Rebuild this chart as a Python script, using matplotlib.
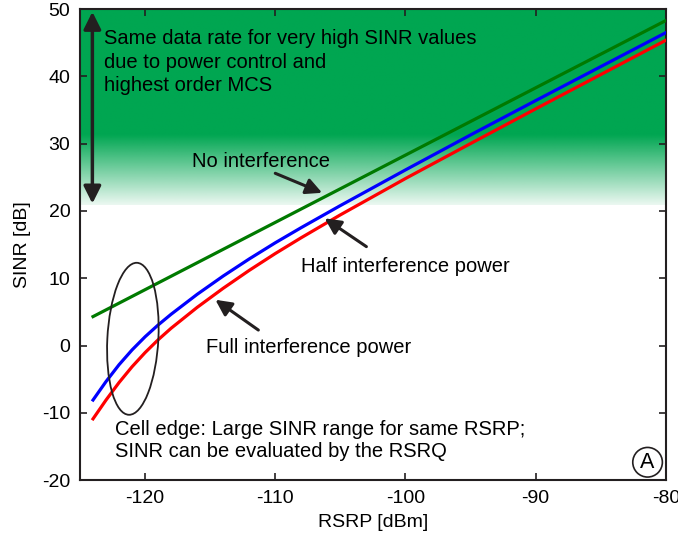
import numpy as np
import matplotlib
matplotlib.use('Agg')
import matplotlib.pyplot as plt
from matplotlib.patches import Ellipse

plt.rcParams['font.family'] = ['Liberation Sans', 'DejaVu Sans']
plt.rcParams['axes.unicode_minus'] = False

# values
rsrp = [-124, -123, -122, -121, -120, -119, -118, -116, -114, -112, -110,
        -108, -105, -100, -95, -90, -85, -80]
sinr_no_interf = [4.3, 5.3, 6.3, 7.3, 8.3, 9.3, 10.3, 12.3, 14.3, 16.3, 18.3,
                  20.3, 23.3, 28.3, 33.3, 38.3, 43.3, 48.3]
sinr_half_interf = [-8.1, -5.35, -2.85, -0.65, 1.3, 3.05, 4.65, 7.61, 10.33, 12.87, 15.27,
                    17.53, 20.8, 26.1, 31.3, 36.4, 41.45, 46.5]
sinr_full_interf = [-10.9, -8.1, -5.5, -3.15, -1.05, 0.85, 2.57, 5.67, 8.51, 11.17, 13.67,
                    16.03, 19.42, 24.82, 30.02, 35.17, 40.27, 45.37]

x_ticks = [-120, -110, -100, -90, -80]
y_ticks = [-20, -10, 0, 10, 20, 30, 40, 50]

dark = '#231F20'
green_bg = np.array([0, 166, 81]) / 255.0
fs = 14.5

fig = plt.figure(figsize=(6.78, 5.37), dpi=100)
ax = fig.add_axes([0.118, 0.106, 0.864, 0.877])

# green band: solid above ~31 dB, fading out down to ~21 dB
n = 300
yy = np.linspace(20.9, 50, n)
alpha = np.clip((yy - 20.9) / (31.3 - 20.9), 0, 1)
alpha = 0.08 + 0.92 * alpha
img = np.zeros((n, 2, 4))
img[:, :, :3] = green_bg
img[:, :, 3] = alpha[:, None]
ax.imshow(img, extent=[-125, -80, 20.9, 50], origin='lower', aspect='auto',
          interpolation='bilinear', zorder=0)

ax.plot(rsrp, sinr_no_interf, color='#007A00', lw=2.3, zorder=3)
ax.plot(rsrp, sinr_half_interf, color='#0000FF', lw=2.3, zorder=3)
ax.plot(rsrp, sinr_full_interf, color='#FF0000', lw=2.3, zorder=3)

ax.set_xlim(-125, -80)
ax.set_ylim(-20, 50)
ax.set_xticks(x_ticks)
ax.set_yticks(y_ticks)
ax.tick_params(direction='in', length=5, width=1.2, top=True, right=True,
               labelsize=14, pad=7, color=dark)
for s in ax.spines.values():
    s.set_linewidth(1.5)
    s.set_color(dark)
ax.set_xlabel('RSRP [dBm]', fontsize=14, labelpad=5)
ax.set_ylabel('SINR [dB]', fontsize=14, labelpad=8)

# vertical double arrow
ax.annotate('', xy=(-124.05, 49.6), xytext=(-124.05, 21.1),
            arrowprops=dict(arrowstyle='<|-|>', color=dark, lw=2.5,
                            mutation_scale=26, shrinkA=0, shrinkB=0), zorder=4)
ax.text(-123.15, 47.0, 'Same data rate for very high SINR values\n'
        'due to power control and\nhighest order MCS',
        fontsize=fs, va='top', ha='left', linespacing=1.28, color='black')

arrow_kw = dict(arrowstyle='-|>', color=dark, lw=2.2, mutation_scale=24,
                shrinkA=0, shrinkB=0)
ax.text(-116.4, 27.3, 'No interference', fontsize=fs, va='center', ha='left')
ax.annotate('', xy=(-106.4, 22.7), xytext=(-110.0, 25.6), arrowprops=arrow_kw, zorder=4)

ax.text(-108.0, 11.7, 'Half interference power', fontsize=fs, va='center', ha='left')
ax.annotate('', xy=(-106.2, 18.9), xytext=(-103.0, 14.7), arrowprops=arrow_kw, zorder=4)

ax.text(-115.3, -0.3, 'Full interference power', fontsize=fs, va='center', ha='left')
ax.annotate('', xy=(-114.6, 6.8), xytext=(-111.3, 2.3), arrowprops=arrow_kw, zorder=4)

ax.add_patch(Ellipse((-120.94, 1.0), 3.92, 22.6, angle=-1.5, fill=False,
                     edgecolor=dark, lw=1.3, zorder=4))

ax.text(-122.3, -11.0, 'Cell edge: Large SINR range for same RSRP;\n'
        'SINR can be evaluated by the RSRQ',
        fontsize=fs, va='top', ha='left', linespacing=1.22)

ax.text(-81.4, -17.35, 'A', fontsize=15.5, ha='center', va='center',
        bbox=dict(boxstyle='circle,pad=0.2', fc='white', ec=dark, lw=1.2))

plt.savefig('out.png', dpi=100)
